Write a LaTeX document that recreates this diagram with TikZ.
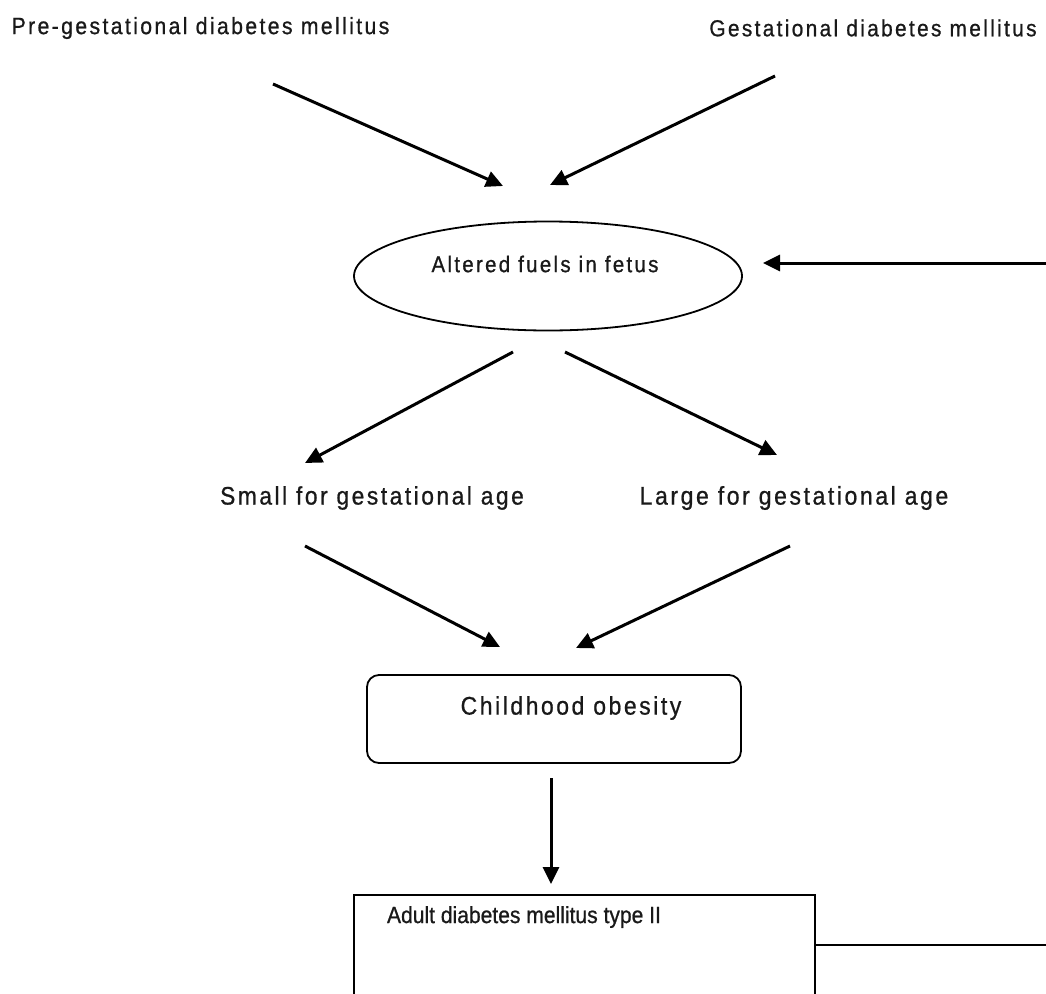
\documentclass[tikz,border=0pt]{standalone}
\usepackage{fontspec}
\setmainfont{Liberation Sans}
\newfontfamily\lsp[LetterSpace=10,FakeStretch=0.9,FakeBold=0.8]{Liberation Sans}
\newfontfamily\lnar[FakeStretch=0.9,FakeBold=0.8]{Liberation Sans}
\usetikzlibrary{arrows.meta,shapes.geometric}
\tikzset{
  arr/.style={line width=3pt,-{Triangle[length=17pt,width=16pt]}},
  lbl/.style={inner sep=0pt,text=black!90},
  fs/.style={font=\lsp\fontsize{#1pt}{#1pt}\selectfont},
  boxline/.style={draw,line width=1.8pt},
}
\begin{document}
\begin{tikzpicture}[x=1pt,y=-1pt]
\useasboundingbox (0,0) rectangle (1046,993);
% text nodes
\node[lbl,fs=23.6] (pre) at (200.5,28) {Pre-gestational diabetes mellitus};
\node[lbl,fs=23.2] (gest) at (873,28) {Gestational diabetes mellitus};
\node[boxline,ellipse,minimum width=388pt,minimum height=109pt,inner sep=0pt] (alt) at (548,276) {};
\node[lbl,fs=22.8] (alttext) at (545,264) {Altered fuels in fetus};
\node[lbl,fs=25.3] (sga) at (372,498) {Small for gestational age};
\node[lbl,fs=25.6] (lga) at (794,498) {Large for gestational age};
\node[boxline,rounded corners=12pt,minimum width=374pt,minimum height=88pt,inner sep=0pt] (child) at (554,719) {};
\node[lbl,fs=25.5] (childtext) at (571,708) {Childhood obesity};
\node[boxline,minimum width=461pt,minimum height=130pt,inner sep=0pt,anchor=north west] (adult) at (353,894) {};
\node[lbl,font=\lnar\fontsize{23.4pt}{23.4pt}\selectfont] (adulttext) at (524,917) {Adult diabetes mellitus type II};
% connector end points
\coordinate (a1s) at (273,84);  \coordinate (a1e) at (503,186);
\coordinate (a2s) at (775,76);  \coordinate (a2e) at (550,185);
\coordinate (a3s) at (1046,263); \coordinate (a3e) at (763,263);
\coordinate (a4s) at (513,352); \coordinate (a4e) at (305,463);
\coordinate (a5s) at (565,352); \coordinate (a5e) at (777,455);
\coordinate (a6s) at (305,546); \coordinate (a6e) at (500,647);
\coordinate (a7s) at (790,546); \coordinate (a7e) at (576,648);
\coordinate (a8s) at (551,778); \coordinate (a8e) at (551,884);
\coordinate (rend) at (1046,945);
% connectors
\draw[arr] (a1s) -- (a1e);
\draw[arr] (a2s) -- (a2e);
\draw[arr] (a3s) -- (a3e);
\draw[arr] (a4s) -- (a4e);
\draw[arr] (a5s) -- (a5e);
\draw[arr] (a6s) -- (a6e);
\draw[arr] (a7s) -- (a7e);
\draw[arr] (a8s) -- (a8e);
\draw[line width=1.8pt] (adult.north east |- rend) -- (rend);
\end{tikzpicture}
\end{document}
